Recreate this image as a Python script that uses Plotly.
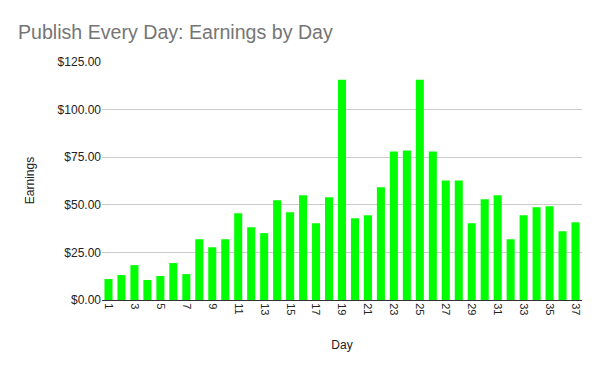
import plotly.graph_objects as go

days = list(range(1, 38))
earnings = [11.0, 13.1, 18.3, 10.5, 12.6, 19.4, 13.6, 31.9, 27.7, 31.9,
            45.5, 38.2, 35.1, 52.4, 46.1, 55.0, 40.3, 53.9, 115.7, 42.9,
            44.5, 59.2, 78.0, 78.5, 115.7, 78.0, 62.8, 62.8, 40.3, 52.9,
            55.0, 31.9, 44.5, 48.7, 49.2, 36.1, 40.8]
tick_days = list(range(1, 38, 2))
y_ticks = [0, 25, 50, 75, 100, 125]
y_labels = ["$0.00", "$25.00", "$50.00", "$75.00", "$100.00", "$125.00"]

W, H = 592, 363  # page body has an 8px margin

fig = go.Figure(go.Bar(x=days, y=earnings, marker=dict(color="#00ff00", line=dict(width=0))))

fig.update_layout(
    width=W, height=H,
    margin=dict(l=94, r=18, t=53, b=71),
    paper_bgcolor="white", plot_bgcolor="white",
    font=dict(family="Liberation Sans, Arial, sans-serif", size=12, color="#222222"),
    title=dict(text="Publish Every Day: Earnings by Day", x=10 / W, xanchor="left",
               y=1 - 24 / H, yanchor="middle",
               font=dict(size=19.6, color="#757575", family="Liberation Sans, Arial, sans-serif")),
    bargap=0.38,
    showlegend=False,
)
fig.update_xaxes(range=[0.5, 37.5], tickvals=tick_days, ticktext=[str(d) for d in tick_days],
                 tickangle=90, tickfont=dict(size=11), showgrid=False, showline=True,
                 linecolor="#333333", linewidth=1,
                 ticks="", title=dict(text="Day", font=dict(size=12, color="#222222"), standoff=26))
fig.update_yaxes(range=[0, 125.5], tickvals=y_ticks, ticktext=y_labels,
                 showgrid=True, gridcolor="#cccccc", gridwidth=1, zeroline=False,
                 ticks="", title=dict(text="Earnings", font=dict(size=12, color="#222222"), standoff=20))

fig.write_html("out.html")
